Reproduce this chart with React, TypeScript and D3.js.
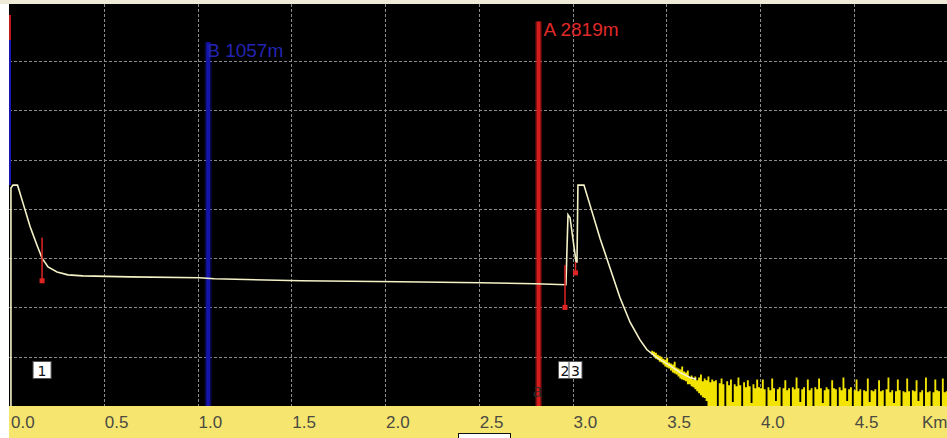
import { useEffect, useRef } from "react";
import * as d3 from "d3";

// Trace (distance in km, level in dB)
const traceKm = [0.005, 0.005, 0.016, 0.04, 0.053, 0.069, 0.107, 0.144, 0.171, 0.203, 0.251, 0.309, 0.389, 0.64, 1.01, 1.09, 1.55, 2.08, 2.51, 2.8, 2.965, 2.976, 2.987, 3.019, 3.024, 3.029, 3.061, 3.093, 3.147, 3.2, 3.253, 3.307, 3.36, 3.397, 3.451, 3.52, 3.573, 3.627, 3.66];
const traceDb = [0, 22.1, 22.4, 22.4, 21.6, 20.6, 18.2, 16.3, 15.0, 14.1, 13.6, 13.3, 13.2, 13.1, 13.0, 12.9, 12.7, 12.6, 12.5, 12.4, 12.3, 19.4, 19.1, 14.6, 14.6, 22.4, 22.4, 20.4, 17.0, 14.0, 11.0, 8.5, 6.7, 5.7, 4.9, 4.1, 3.4, 2.9, 2.7];

// Noise band after fibre end, one value every 10 m
const noiseStartKm = 3.42;
const noiseStepKm = 0.01;
const noiseHigh = [
  5.6, 5.5, 5.4, 5.2, 5.1, 5.0, 4.8, 4.7, 4.9, 4.4, 4.3, 4.2, 4.5, 3.9, 3.8, 3.7, 4.0, 3.5, 3.4, 3.6,
  2.9, 3.1, 2.7, 3.0, 2.6, 2.9, 3.2, 2.5, 2.8, 2.6, 3.0, 2.4, 2.7, 2.5,
  2.6, 0, 2.3, 2.8, 2.2, 0, 2.5, 2.1, 2.7, 0.4, 2.2, 2.0, 2.9, 2.1, 0, 2.4, 1.9, 2.6, 2.0, 0.3, 2.2, 1.8, 2.7, 1.9,
  1.8, 2.7, 1.7, 0, 1.9, 1.6, 2.8, 1.8, 0.5, 1.7,
  1.9, 0, 1.8, 2.6, 1.6, 1.8, 0, 1.9, 1.7, 2.9,
  1.8, 0.4, 1.7, 1.9, 0, 2.7, 1.6, 1.8, 0, 1.9,
  1.7, 2.8, 1.8, 0.3, 1.6, 1.9, 1.7, 0, 2.6, 1.8,
  1.7, 0, 1.9, 1.6, 2.9, 1.8, 0.5, 1.7, 1.9, 0,
  1.6, 2.7, 1.5, 1.7, 0, 1.6, 1.5, 2.8, 0.4, 1.6,
  1.5, 1.7, 0, 2.6, 1.5, 1.6, 0, 1.7, 2.9, 1.4,
  1.6, 0.3, 1.5, 2.7, 1.6, 0, 1.5, 1.4, 2.8, 1.5,
  0, 1.6, 1.5, 2.6, 0.5, 1.4, 1.6, 0, 2.9, 1.4,
  1.5, 0, 1.4, 2.7, 1.6, 1.5, 0, 2.8, 1.4, 1.5, 1.4,
];
// lower edge of the band where it still follows the decay (0 afterwards)
const noiseLowLead = [5.2, 5.0, 4.8, 4.7, 4.5, 4.4, 4.2, 4.0, 3.9, 3.8, 3.6, 3.4, 3.3, 3.2, 3.0, 2.8, 2.7, 2.6, 2.5, 2.2, 2.2, 2.0, 1.9, 1.7, 1.5, 1.3, 1.1, 0.9, 0.8, 0.5];

// Event markers
const eventKm = [0.171, 2.96, 3.016];
const eventTopDb = [17.1, 14.3, 14.6];
const eventBottomDb = [12.7, 10.0, 13.5];
const eventLabels = ["1", "2", "3"];

// Cursors
const cursorNames = ["B", "A"];
const cursorMeters = [1057, 2819];
const cursorColors = ["#1414a8", "#d41c1c"];
const cursorTopDb = [36.9, 39.0];

const xTicks = [0, 0.5, 1.0, 1.5, 2.0, 2.5, 3.0, 3.5, 4.0, 4.5];
const yGrid = [5, 10, 15, 20, 25, 30, 35];

const W = 947;
const H = 438;

const App = () => {
  const svgRef = useRef<SVGSVGElement>(null);

  useEffect(() => {
    if (!svgRef.current) return;
    const svg = d3.select(svgRef.current);
    svg.selectAll("*").remove();

    const left = 9, top = 4, bottom = 406;
    const x = d3.scaleLinear().domain([0, 5]).range([10, 947.5]);
    const y = d3.scaleLinear().domain([0, 40.67]).range([bottom, top + 1]);

    svg.append("rect").attr("width", W).attr("height", H).attr("fill", "#ffffff");
    svg.append("rect").attr("x", 0).attr("y", 0).attr("width", W).attr("height", top).attr("fill", "#efe9d8");
    svg.append("rect").attr("x", left).attr("y", top).attr("width", W - left).attr("height", bottom - top).attr("fill", "#000000");

    // grid
    const grid = svg.append("g").attr("stroke", "#8c8c8c").attr("stroke-width", 1).attr("stroke-dasharray", "3,2");
    grid.selectAll("line.v").data(xTicks.filter((d) => d > 0)).enter().append("line")
      .attr("x1", (d) => Math.round(x(d)) + 0.5).attr("x2", (d) => Math.round(x(d)) + 0.5)
      .attr("y1", top).attr("y2", bottom);
    grid.selectAll("line.h").data(yGrid).enter().append("line")
      .attr("x1", left).attr("x2", W)
      .attr("y1", (d) => Math.round(y(d)) + 0.5).attr("y2", (d) => Math.round(y(d)) + 0.5);

    // left edge marks
    svg.append("line").attr("x1", 10).attr("x2", 10).attr("y1", 15).attr("y2", 40).attr("stroke", "#c01818").attr("stroke-width", 2);
    svg.append("line").attr("x1", 10).attr("x2", 10).attr("y1", 40).attr("y2", 185).attr("stroke", "#1818b0").attr("stroke-width", 2);

    // cursors
    cursorNames.forEach((name, i) => {
      const cx = x(cursorMeters[i] / 1000);
      svg.append("line").attr("x1", cx).attr("x2", cx).attr("y1", y(cursorTopDb[i])).attr("y2", bottom)
        .attr("stroke", cursorColors[i]).attr("stroke-width", 7).attr("opacity", 0.35);
      svg.append("line").attr("x1", cx).attr("x2", cx).attr("y1", y(cursorTopDb[i])).attr("y2", bottom)
        .attr("stroke", cursorColors[i]).attr("stroke-width", 4);
      svg.append("text").attr("x", cx + (i === 0 ? -1 : 5)).attr("y", y(cursorTopDb[i]) + 15)
        .style("font-family", "'Liberation Sans', Arial, sans-serif").style("font-size", "19px")
        .attr("fill", i === 0 ? "#2424b4" : "#e02a2a").text(`${name} ${cursorMeters[i]}m`);
    });

    // noise band
    const noisePts = noiseHigh.map((v, i) => ({
      km: noiseStartKm + i * noiseStepKm,
      hi: v,
      lo: Math.min(v, noiseLowLead[i] ?? 0),
    }));
    noisePts.push({ km: 5.0, hi: 1.4, lo: 0 });
    const noiseArea = d3.area<{ km: number; hi: number; lo: number }>()
      .x((d) => x(d.km)).y0((d) => y(d.lo)).y1((d) => y(d.hi))
      .curve(d3.curveStepAfter);
    svg.append("path").attr("d", noiseArea(noisePts) || "").attr("fill", "#f2e400");

    // trace
    const line = d3.line<number>().x((_, i) => x(traceKm[i])).y((d) => y(d));
    svg.append("path").datum(traceDb).attr("d", line).attr("fill", "none")
      .attr("stroke", "#f4f2c6").attr("stroke-width", 1.6);

    // events
    eventKm.forEach((km, i) => {
      const ex = x(km);
      svg.append("line").attr("x1", ex).attr("x2", ex).attr("y1", y(eventTopDb[i])).attr("y2", y(eventBottomDb[i]))
        .attr("stroke", "#e02424").attr("stroke-width", 1.5);
      svg.append("rect").attr("x", ex - 2.5).attr("y", y(eventBottomDb[i]) - 2.5).attr("width", 5).attr("height", 5).attr("fill", "#e02424");
      const bw = i === 0 ? 18 : 13;
      svg.append("rect").attr("x", ex - bw / 2).attr("y", 361.5).attr("width", bw).attr("height", 17)
        .attr("fill", "#ffffff").attr("stroke", "#555").attr("stroke-width", 1);
      svg.append("text").attr("x", ex).attr("y", 375.5).attr("text-anchor", "middle")
        .style("font-family", "'DejaVu Sans', sans-serif").style("font-size", "14px").attr("fill", "#111")
        .text(eventLabels[i]);
    });

    svg.append("text").attr("x", x(cursorMeters[1] / 1000) - 1).attr("y", 397).attr("text-anchor", "middle")
      .style("font-family", "'Liberation Serif', serif").style("font-size", "22px").attr("fill", "#2a2a2a").text("a");

    // x axis band
    svg.append("rect").attr("x", left).attr("y", bottom).attr("width", W - left).attr("height", H - bottom).attr("fill", "#f6e56e");
    svg.append("g").selectAll("text").data(xTicks).enter().append("text")
      .attr("x", (d) => x(d) + 1).attr("y", 428)
      .style("font-family", "'Liberation Sans', Arial, sans-serif").style("font-size", "17px")
      .attr("fill", "#4a4a42").text((d) => d.toFixed(1));
    svg.append("text").attr("x", 922).attr("y", 428)
      .style("font-family", "'Liberation Sans', Arial, sans-serif").style("font-size", "17px")
      .attr("fill", "#4a4a42").text("Km");
    svg.append("rect").attr("x", 458.5).attr("y", 433.5).attr("width", 52).attr("height", 10)
      .attr("fill", "#ffffff").attr("stroke", "#111").attr("stroke-width", 1);
  }, []);

  return (
    <div style={{ position: "absolute", left: 0, top: 0 }}>
      <svg ref={svgRef} width={W} height={H} style={{ display: "block" }} />
    </div>
  );
};

export default App;
